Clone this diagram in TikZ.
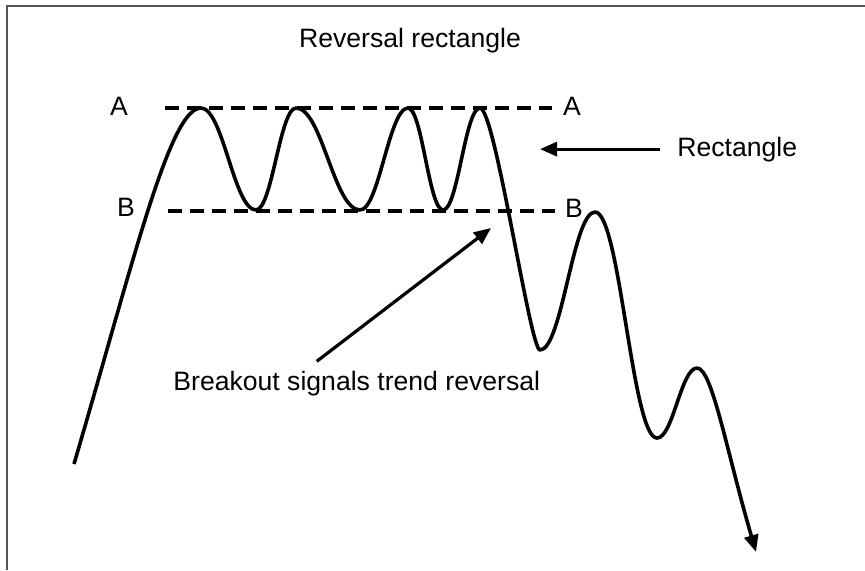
\documentclass[tikz,border=0pt]{standalone}
\usepackage{fontspec}
\setmainfont{Liberation Sans}
\usepackage{xcolor}
\usepackage{tikz}
\usetikzlibrary{arrows.meta}
\definecolor{framegray}{RGB}{85,85,85}
\tikzset{
  lbl/.style   ={inner sep=0pt, font=\fontsize{13.3}{16}\selectfont},
  ar/.style    ={-{Triangle[length=8.5pt,width=7pt]}, line width=1.6pt},
  lvl/.style   ={line width=1.6pt, dash pattern=on 7pt off 4pt},
  price/.style ={line width=1.8pt, line join=round},
  frm/.style   ={draw=framegray, line width=1pt},
}

\begin{document}
\begin{tikzpicture}[x=0.5pt,y=-0.5pt]
\useasboundingbox (0,0) rectangle (865,570);
\draw[frm] (7,570) -- (7,6) -- (865,6);
% labels
\node[lbl,anchor=base] (title) at (410,47) {Reversal rectangle};
\node[lbl,anchor=base] (aleft) at (119,115) {A};
\node[lbl,anchor=base] (aright) at (572,115) {A};
\node[lbl,anchor=base] (bleft) at (126,216) {B};
\node[lbl,anchor=base] (bright) at (574,217) {B};
\node[lbl,anchor=base west] (rect) at (677,156) {Rectangle};
\node[lbl,anchor=base west] (brk) at (173,390) {Breakout signals trend reversal};
% level lines
\coordinate (a1) at (165,108); \coordinate (a2) at (552,108);
\coordinate (b1) at (168,211); \coordinate (b2) at (555,211);
\draw[lvl] (a1) -- (a2);
\draw[lvl] (b1) -- (b2);
% price path
\draw[price,-{Triangle[length=8.5pt,width=7pt]}] (74,464)
  .. controls (135,256) and (170,108) .. (201,108)
  .. controls (223,108) and (234,210) .. (256,210)
  .. controls (272,210) and (280,108) .. (296,108)
  .. controls (322,108) and (334,210) .. (360,210)
  .. controls (379,210) and (389,108) .. (408,108)
  .. controls (422,108) and (429,210) .. (443,210)
  .. controls (458,210) and (465,108) .. (480,108)
  .. controls (495,108) and (530,350) .. (540,350)
  .. controls (562,350) and (573,212) .. (595,212)
  .. controls (620,212) and (632,438) .. (657,438)
  .. controls (673,438) and (681,368) .. (697,368)
  .. controls (712,368) and (726,449) .. (756,552);
% pointers
\coordinate (rtip) at (540,149);
\coordinate (btip) at (491,228);
\draw[ar] ([xshift=-8.5pt]rect.west) -- (rtip |- rect.west);
\draw[ar] ([xshift=-20pt,yshift=4.5pt]brk.north) -- (btip);
\end{tikzpicture}
\end{document}
